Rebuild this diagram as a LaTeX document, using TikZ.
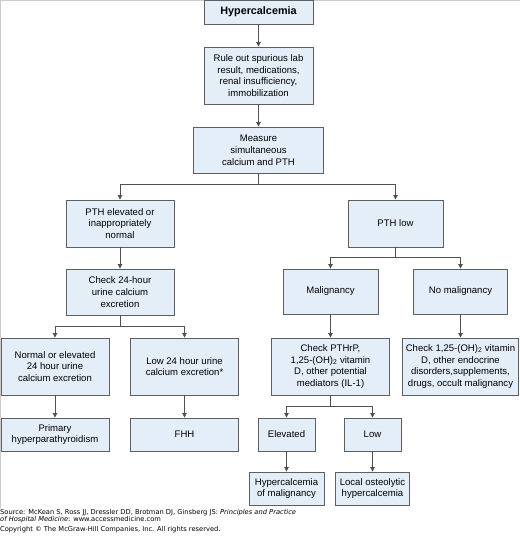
\documentclass[tikz,border=0pt]{standalone}
\usepackage{fontspec}
\setmainfont{Liberation Sans}
\newfontfamily\srcfont{DejaVu Sans}
\usetikzlibrary{arrows.meta,positioning}

\definecolor{boxfill}{RGB}{228,238,249}
\definecolor{boxline}{RGB}{95,95,95}
\definecolor{arline}{RGB}{80,80,80}

\begin{document}
\begin{tikzpicture}[
  x=1pt, y=-1pt,
  font=\fontsize{9.55}{11.8}\selectfont,
  >={Triangle[length=4.5pt,width=4.5pt]},
  box/.style={rectangle, draw=boxline, line width=0.9pt, fill=boxfill,
              align=center, inner sep=0pt},
  wide/.style={box, minimum width=108pt},
  ar/.style={->, line width=0.9pt, draw=arline},
  src/.style={font=\srcfont\fontsize{6.7}{7.6}\selectfont, anchor=west,
              align=left, inner sep=0pt},
]
\useasboundingbox (0,0) rectangle (520,542);
\draw[gray!40, line width=1pt] (0,0.5) -- (520,0.5);
\draw[gray!40, line width=1pt] (0.5,0) -- (0.5,508);

% ---------- trunk ----------
\node[box, minimum width=109pt, minimum height=24pt,
      font=\bfseries\fontsize{10.8}{13}\selectfont] (hyp) at (258.5,12) {Hypercalcemia};
\node[box, minimum width=109pt, minimum height=57pt] (rule) at (258.5,75.5)
  {Rule out spurious lab\\result, medications,\\renal insufficiency,\\immobilization};
\node[box, minimum width=130pt, minimum height=46pt] (meas) at (258.5,150)
  {Measure\\simultaneous\\calcium and PTH};

% ---------- left branch: PTH elevated ----------
\node[wide, minimum height=47pt] (ptheh) at (120,223.5)
  {PTH elevated or\\inappropriately\\normal};
\node[wide, minimum height=46pt] (urine) at (120,292)
  {Check 24-hour\\urine calcium\\excretion};
\node[wide, minimum height=57pt] (normal) at (55,366.5)
  {Normal or elevated\\24 hour urine\\calcium excretion};
\node[wide, minimum height=57pt] (lowurine) at (184.5,366.5)
  {Low 24 hour urine\\calcium excretion*};
\node[wide, minimum height=33pt] (primary) at (55,434.5)
  {Primary\\hyperparathyroidism};
\node[wide, minimum height=33pt] (fhh) at (184.5,434.5) {FHH};

% ---------- right branch: PTH low ----------
\node[box, minimum width=95pt, minimum height=47pt] (pthlow) at (395.5,223.5) {PTH low};
\node[box, minimum width=95pt, minimum height=45pt] (malig) at (330.5,291.5) {Malignancy};
\node[box, minimum width=94pt, minimum height=45pt] (nomalig) at (460.5,291.5) {No malignancy};
\node[box, minimum width=118pt, minimum height=57pt] (pthrp) at (330.5,366.5)
  {Check PTHrP,\\1,25-(OH)\textsubscript{2} vitamin\\D, other potential\\mediators (IL-1)};
\node[box, minimum width=116pt, minimum height=57pt] (vitd) at (460.5,366.5)
  {Check 1,25-(OH)\textsubscript{2} vitamin\\D, other endocrine\\disorders,supplements,\\drugs, occult malignancy};
\node[box, minimum width=57pt, minimum height=33pt] (elev) at (286.5,434.5) {Elevated};
\node[box, minimum width=57pt, minimum height=33pt] (lowp) at (372.5,434.5) {Low};
\node[box, minimum width=75pt, minimum height=33pt] (hom) at (286.5,488.5)
  {Hypercalcemia\\of malignancy};
\node[box, minimum width=74pt, minimum height=33pt] (osteo) at (372.5,488.5)
  {Local osteolytic\\hypercalcemia};

% ---------- source ----------
\node[src] (source) at (0,516)
  {Source: McKean S, Ross JJ, Dressler DD, Brotman DJ, Ginsberg JS: \textit{Principles and Practice}\\
   \textit{of Hospital Medicine}: www.accessmedicine.com};
\node[src] (copy) at (0,530) {Copyright \textcopyright{} The McGraw-Hill Companies, Inc. All rights reserved.};

% ===== connectors =====
\draw[ar] (hyp) -- (rule);
\draw[ar] (rule) -- (meas);
\draw[ar] (meas.south) -- ++(0,11) -| (ptheh.north);
\draw[ar] (meas.south) -- ++(0,11) -| (pthlow.north);

\draw[ar] (ptheh) -- (urine);
\draw[ar] (urine.south) -- ++(0,11) -| (normal.north);
\draw[ar] (urine.south) -- ++(0,11) -| (lowurine.north);
\draw[ar] (normal) -- (primary);
\draw[ar] (lowurine) -- (fhh);

\draw[ar] (pthlow.south) -- ++(0,10) -| (malig.north);
\draw[ar] (pthlow.south) -- ++(0,10) -| (nomalig.north);
\draw[ar] (malig) -- (pthrp);
\draw[ar] (nomalig) -- (vitd);
\draw[ar] (pthrp.south) -- ++(0,11) -| (elev.north);
\draw[ar] (pthrp.south) -- ++(0,11) -| (lowp.north);
\draw[ar] (elev) -- (hom);
\draw[ar] (lowp) -- (osteo);

\end{tikzpicture}
\end{document}
